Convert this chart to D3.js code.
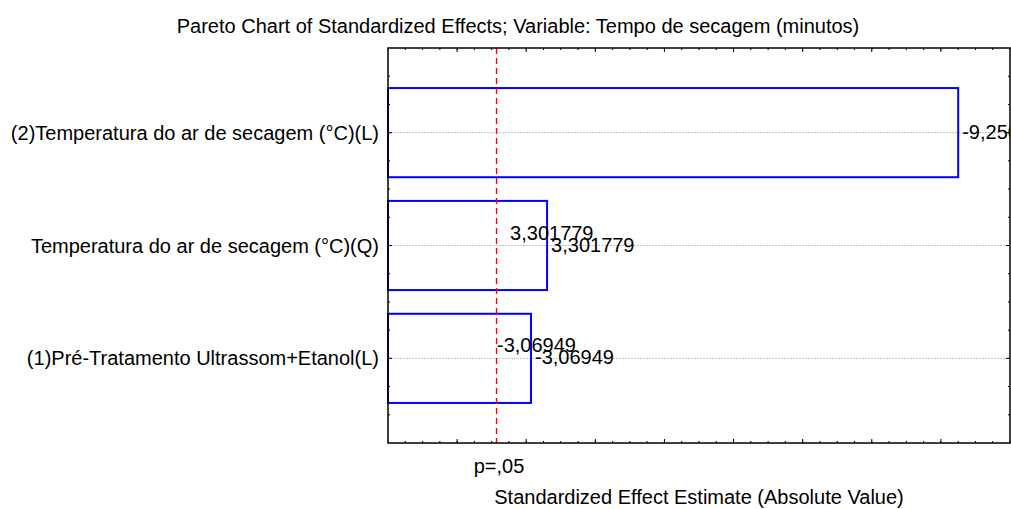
<!DOCTYPE html>
<html>
<head>
<meta charset="utf-8">
<script src="https://cdn.jsdelivr.net/npm/d3@7"></script>
<style>
  body { margin: 0; background: #fff; }
  text { font-family: "Liberation Sans", Arial, sans-serif; fill: #000; }
</style>
</head>
<body>
<svg id="chart"></svg>
<script>
// ── Data (bottom to top, sorted by absolute effect) ─────────────────────────
const effects = [
  '(1)Pré-Tratamento Ultrassom+Etanol(L)',
  'Temperatura do ar de secagem (°C)(Q)',
  '(2)Temperatura do ar de secagem (°C)(L)'
];
const estimates   = [-3.06949, 3.301779, -9.25046];
const valueLabels = ['-3,06949', '3,301779', '-9,25046'];
const pCritical   = 2.5706;   // t(0.025; 5)
const pLabel      = 'p=,05';
const xDomain     = [1, 10];

const W = 1011, H = 509;
const plot = { left: 388, right: 1010, top: 48, bottom: 443 };
const FS = '20px';

const svg = d3.select('#chart').attr('width', W).attr('height', H);

const x = d3.scaleLinear().domain(xDomain).range([plot.left, plot.right]);
// categories sit at 1, 2, 3 on a continuous axis padded by a quarter step
const y = d3.scaleLinear().domain([0.25, effects.length + 0.75]).range([plot.bottom, plot.top]);
const barHalf = 0.395;

const minorX = d3.range(xDomain[0], xDomain[1] + 0.001, 0.25);
const majorX = d3.range(xDomain[0] + 1, xDomain[1], 1);
const minorY = d3.range(0.5, effects.length + 0.75, 0.25);
const majorY = effects.map((d, i) => i + 1);

// ── Title ──────────────────────────────────────────────────────────────────
svg.append('text')
  .attr('x', 518).attr('y', 33)
  .attr('text-anchor', 'middle')
  .attr('font-size', FS)
  .text('Pareto Chart of Standardized Effects; Variable: Tempo de secagem (minutos)');

// ── Grid lines at category centres ─────────────────────────────────────────
svg.append('g')
  .selectAll('line')
  .data(majorY)
  .join('line')
    .attr('x1', plot.left).attr('x2', plot.right)
    .attr('y1', d => y(d)).attr('y2', d => y(d))
    .attr('stroke', '#c4c4c4')
    .attr('stroke-width', 1)
    .attr('stroke-dasharray', '2,1');

// ── Bars ───────────────────────────────────────────────────────────────────
svg.append('g')
  .selectAll('rect')
  .data(estimates)
  .join('rect')
    .attr('x', x(xDomain[0]))
    .attr('y', (d, i) => y(i + 1 + barHalf))
    .attr('width', d => x(Math.abs(d)) - x(xDomain[0]))
    .attr('height', (d, i) => y(i + 1 - barHalf) - y(i + 1 + barHalf))
    .attr('fill', 'none')
    .attr('stroke', '#0000ff')
    .attr('stroke-width', 2);

// ── p = .05 reference line ─────────────────────────────────────────────────
svg.append('line')
  .attr('x1', x(pCritical)).attr('x2', x(pCritical))
  .attr('y1', plot.top).attr('y2', plot.bottom)
  .attr('stroke', '#ff0000')
  .attr('stroke-width', 1.4)
  .attr('stroke-dasharray', '6,4');

// ── Value labels (clipped to plot area) ────────────────────────────────────
svg.append('clipPath').attr('id', 'plot-clip')
  .append('rect')
    .attr('x', plot.left).attr('y', plot.top)
    .attr('width', plot.right - plot.left).attr('height', plot.bottom - plot.top);

const lab = svg.append('g').attr('clip-path', 'url(#plot-clip)');

// echo copies drawn a little up and left (as STATISTICA leaves them)
lab.selectAll('text.echo')
  .data(estimates.slice(0, 2))
  .join('text')
    .attr('class', 'echo')
    .attr('x', (d, i) => x(Math.abs(d)) - [34, 37][i])
    .attr('y', (d, i) => y(i + 1) - 13)
    .attr('dominant-baseline', 'central')
    .attr('font-size', FS)
    .text((d, i) => valueLabels[i]);

lab.selectAll('text.val')
  .data(estimates)
  .join('text')
    .attr('class', 'val')
    .attr('x', d => x(Math.abs(d)) + 4)
    .attr('y', (d, i) => y(i + 1) - 1)
    .attr('dominant-baseline', 'central')
    .attr('font-size', FS)
    .text((d, i) => valueLabels[i]);

// ── Category labels ────────────────────────────────────────────────────────
svg.append('g')
  .selectAll('text')
  .data(effects)
  .join('text')
    .attr('x', plot.left - 9)
    .attr('y', (d, i) => y(i + 1))
    .attr('text-anchor', 'end')
    .attr('dominant-baseline', 'central')
    .attr('font-size', FS)
    .text(d => d);

// ── Frame and inward ticks ─────────────────────────────────────────────────
const frame = svg.append('g').attr('stroke', '#000');

function ticks(vals, len, side) {
  const horiz = side === 'bottom' || side === 'top';
  frame.append('g')
    .selectAll('line')
    .data(vals)
    .join('line')
      .attr('stroke-width', 1)
      .attr('x1', d => horiz ? x(d) : (side === 'left' ? plot.left : plot.right))
      .attr('x2', d => horiz ? x(d) : (side === 'left' ? plot.left + len : plot.right - len))
      .attr('y1', d => !horiz ? y(d) : (side === 'bottom' ? plot.bottom : plot.top))
      .attr('y2', d => !horiz ? y(d) : (side === 'bottom' ? plot.bottom - len : plot.top + len));
}
['bottom', 'top'].forEach(s => { ticks(minorX, 2, s); ticks(majorX, 4, s); });
['left', 'right'].forEach(s => { ticks(minorY, 2, s); ticks(majorY, 4, s); });

frame.append('rect')
  .attr('x', plot.left).attr('y', plot.top)
  .attr('width', plot.right - plot.left).attr('height', plot.bottom - plot.top)
  .attr('fill', 'none')
  .attr('stroke-width', 1.5);

// ── Axis annotations ───────────────────────────────────────────────────────
svg.append('text')
  .attr('x', 499).attr('y', 466)
  .attr('text-anchor', 'middle')
  .attr('dominant-baseline', 'central')
  .attr('font-size', FS)
  .text(pLabel);

svg.append('text')
  .attr('x', 699).attr('y', 497)
  .attr('text-anchor', 'middle')
  .attr('dominant-baseline', 'central')
  .attr('font-size', FS)
  .text('Standardized Effect Estimate (Absolute Value)');
</script>
</body>
</html>
